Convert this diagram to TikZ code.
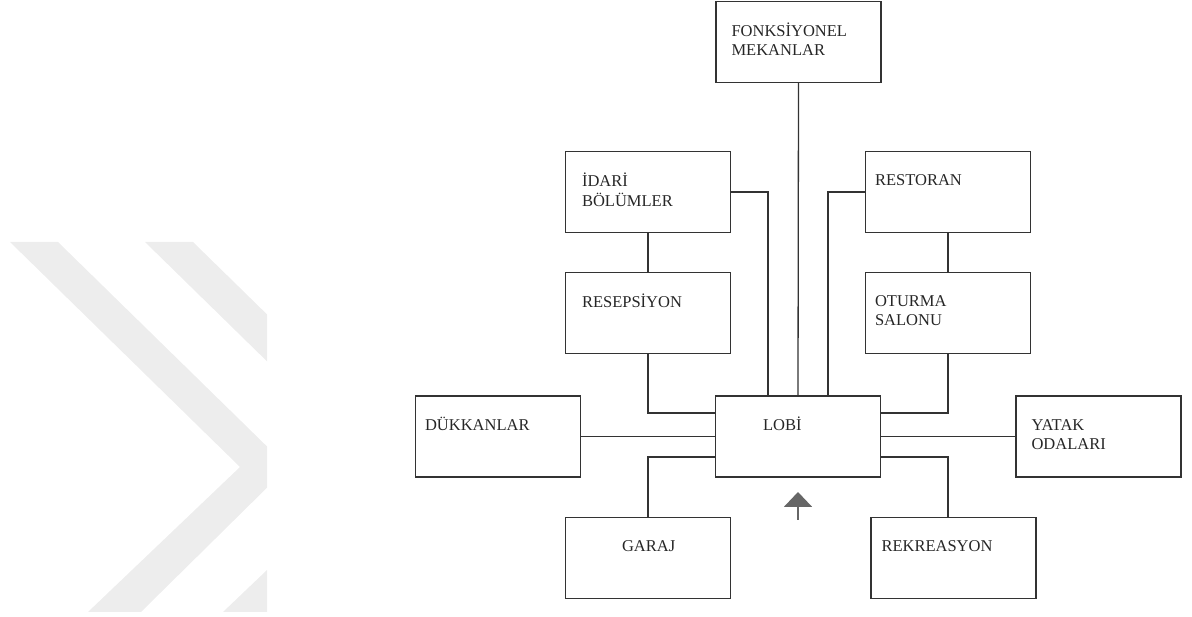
\documentclass[tikz,border=0pt]{standalone}
\usepackage{fontspec}
\setmainfont{Liberation Serif}
\usetikzlibrary{arrows.meta}
\begin{document}
\begin{tikzpicture}[x=1pt, y=1pt,
  kutu/.style={draw=black!80, line width=1.3pt, minimum width=165pt, minimum height=81pt, inner sep=0pt},
  yazi/.style={anchor=north west, inner sep=0pt, align=left, text=black!85, font=\fontsize{16.5}{19}\selectfont},
  bag/.style={draw=black!80, line width=1.3pt},
  girisok/.style={-{Triangle[length=15pt,width=28pt]}, draw=black!60, fill=black!60, line width=2pt}]
 \useasboundingbox (0,0) rectangle (1192,617);
 % filigran
 \begin{scope}
  \clip (0,0) rectangle (267,617);
  \foreach \s in {0,135}
  {
      \fill[black!7, xshift=\s] (10,375)--(58,375)--(288,150)--(141,5)--(88,5)--(240,150)--cycle;
  }
 \end{scope}
 % kutular
 \node[kutu, label={[yazi, xshift=16pt, yshift=-21.5pt]north west:\strut FONKSİYONEL\\MEKANLAR}] (fonk) at (798.5,575) {};
 \node[kutu, label={[yazi, xshift=17pt, yshift=-21.5pt]north west:\strut İDARİ\\BÖLÜMLER}] (idari) at (648,425) {};
 \node[kutu, label={[yazi, xshift=10pt, yshift=-21.5pt]north west:\strut RESTORAN}] (restoran) at (948,425) {};
 \node[kutu, label={[yazi, xshift=17pt, yshift=-21.5pt]north west:\strut RESEPSİYON}] (resepsiyon) at (648,304) {};
 \node[kutu, label={[yazi, xshift=10pt, yshift=-21.5pt]north west:\strut OTURMA\\SALONU}] (oturma) at (948,304) {};
 \node[kutu, label={[yazi, xshift=10pt, yshift=-21.5pt]north west:\strut DÜKKANLAR}] (dukkan) at (498,180.5) {};
 \node[kutu, label={[yazi, xshift=48pt, yshift=-21.5pt]north west:\strut LOBİ}] (lobi) at (798,180.5) {};
 \node[kutu, label={[yazi, xshift=16pt, yshift=-21.5pt]north west:\strut YATAK\\ODALARI}] (yatak) at (1098.5,180.5) {};
 \node[kutu, label={[yazi, xshift=57pt, yshift=-21.5pt]north west:\strut GARAJ}] (garaj) at (648,59) {};
 \node[kutu, label={[yazi, xshift=11pt, yshift=-21.5pt]north west:\strut REKREASYON}] (rekreasyon) at (953.5,59) {};
 % baglantilar
 \draw[bag] (fonk.south)--(lobi.north);
 \draw[bag] (idari.east) -| ([xshift=-30pt]lobi.north);
 \draw[bag] (restoran.west) -| ([xshift=30pt]lobi.north);
 \draw[bag] (idari.south)--(resepsiyon.north);
 \draw[bag] (restoran.south)--(oturma.north);
 \draw[bag] (resepsiyon.south) |- ([yshift=23.5pt]lobi.west);
 \draw[bag] (oturma.south) |- ([yshift=23.5pt]lobi.east);
 \draw[bag] (dukkan.east)--(lobi.west);
 \draw[bag] (yatak.west)--(lobi.east);
 \draw[bag] (garaj.north) |- ([yshift=-20.5pt]lobi.west);
 \draw[bag] ([xshift=-5.5pt]rekreasyon.north) |- ([yshift=-20.5pt]lobi.east);
 % giris
 \coordinate (giris) at (798,97);
 \coordinate (girisuc) at (798,125);
 \draw[girisok] (giris)--(girisuc);
\end{tikzpicture}
\end{document}
